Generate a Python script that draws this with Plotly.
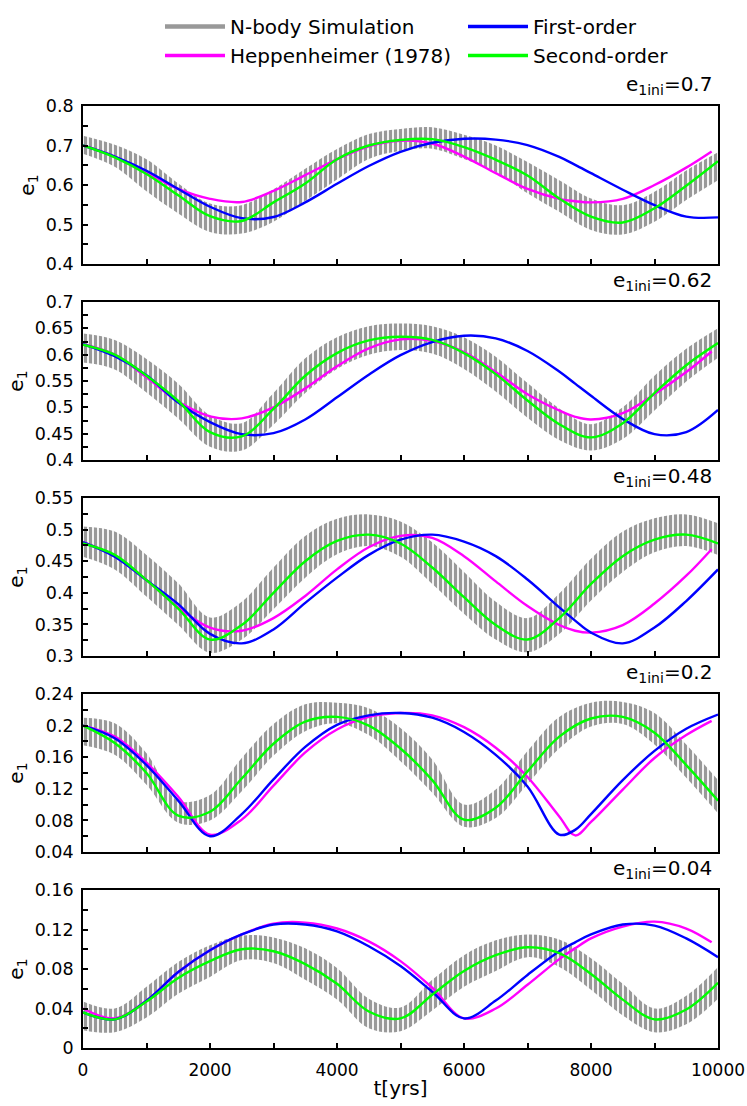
import plotly.graph_objects as go
from plotly.subplots import make_subplots

# ---------------- data ----------------
T = [0, 500, 1000, 1500, 2000, 2500, 3000, 3500, 4000, 4500, 5000,
     5500, 6000, 6500, 7000, 7500, 8000, 8500, 9000, 9500, 10000]
T_FIRST = [0, 500, 1000, 1500, 2000, 2500, 3000, 3500, 4000, 4500, 5000,
           5500, 6000, 6500, 7000, 7500, 7750, 8000, 8500, 9000, 9500, 10000]
T_HEP = [0, 500, 1000, 1500, 2000, 2500, 3000, 3500, 4000, 4500, 5000,
         5500, 6000, 6500, 7000, 7500, 7750, 8000, 8500, 9000, 9500, 9900]

E_INI = ["0.7", "0.62", "0.48", "0.2", "0.04"]

# panel 1 (e1ini = 0.7)
NB_UP_1 = [0.725, 0.702, 0.665, 0.604, 0.553, 0.549, 0.589, 0.641, 0.691, 0.729, 0.742,
           0.746, 0.727, 0.700, 0.658, 0.612, 0.566, 0.549, 0.583, 0.637, 0.683]
NB_LO_1 = [0.679, 0.646, 0.584, 0.528, 0.481, 0.477, 0.507, 0.560, 0.614, 0.666, 0.687,
           0.692, 0.666, 0.633, 0.579, 0.532, 0.486, 0.475, 0.507, 0.562, 0.612]
HEP_1 = [0.700, 0.672, 0.632, 0.590, 0.565, 0.557, 0.585, 0.625, 0.665, 0.698, 0.712,
         0.705, 0.672, 0.630, 0.590, 0.565, 0.559, 0.556, 0.565, 0.600, 0.644, 0.685]
FIRST_1 = [0.700, 0.672, 0.636, 0.590, 0.545, 0.516, 0.519, 0.556, 0.603, 0.648, 0.684,
           0.707, 0.717, 0.715, 0.701, 0.671, 0.651, 0.630, 0.588, 0.549, 0.520, 0.518]
SECOND_1 = [0.700, 0.670, 0.628, 0.574, 0.521, 0.509, 0.556, 0.604, 0.665, 0.700, 0.714,
            0.716, 0.696, 0.664, 0.624, 0.566, 0.520, 0.505, 0.541, 0.598, 0.660]

# panel 2 (e1ini = 0.62)
NB_UP_2 = [0.640, 0.628, 0.592, 0.545, 0.485, 0.470, 0.527, 0.593, 0.633, 0.654, 0.659,
           0.654, 0.633, 0.596, 0.546, 0.498, 0.468, 0.500, 0.560, 0.611, 0.650]
NB_LO_2 = [0.585, 0.572, 0.528, 0.479, 0.425, 0.418, 0.467, 0.527, 0.573, 0.600, 0.609,
           0.602, 0.573, 0.530, 0.480, 0.438, 0.418, 0.440, 0.494, 0.549, 0.594]
HEP_2 = [0.620, 0.600, 0.557, 0.511, 0.483, 0.479, 0.500, 0.536, 0.578, 0.612, 0.629,
         0.626, 0.605, 0.567, 0.525, 0.494, 0.482, 0.477, 0.489, 0.525, 0.567, 0.606]
FIRST_2 = [0.620, 0.597, 0.561, 0.509, 0.472, 0.449, 0.451, 0.477, 0.519, 0.562, 0.599,
           0.624, 0.636, 0.631, 0.607, 0.568, 0.545, 0.522, 0.478, 0.449, 0.453, 0.495]
SECOND_2 = [0.619, 0.600, 0.560, 0.512, 0.453, 0.445, 0.497, 0.560, 0.603, 0.627, 0.634,
            0.628, 0.603, 0.563, 0.513, 0.468, 0.443, 0.470, 0.527, 0.580, 0.622]

# panel 3 (e1ini = 0.48)
NB_UP_3 = [0.505, 0.497, 0.460, 0.415, 0.361, 0.386, 0.440, 0.490, 0.517, 0.524, 0.513,
           0.480, 0.433, 0.386, 0.360, 0.399, 0.454, 0.497, 0.518, 0.524, 0.510]
NB_LO_3 = [0.457, 0.437, 0.394, 0.349, 0.305, 0.326, 0.374, 0.424, 0.461, 0.474, 0.457,
           0.414, 0.367, 0.326, 0.306, 0.335, 0.388, 0.433, 0.464, 0.474, 0.460]
HEP_3 = [0.480, 0.458, 0.420, 0.377, 0.345, 0.340, 0.360, 0.395, 0.437, 0.472, 0.490,
         0.487, 0.458, 0.418, 0.379, 0.349, 0.340, 0.337, 0.349, 0.383, 0.427, 0.469]
FIRST_3 = [0.480, 0.457, 0.420, 0.382, 0.335, 0.320, 0.342, 0.384, 0.424, 0.460, 0.484,
           0.492, 0.481, 0.458, 0.421, 0.377, 0.356, 0.337, 0.320, 0.345, 0.387, 0.437]
SECOND_3 = [0.478, 0.460, 0.420, 0.375, 0.326, 0.349, 0.400, 0.450, 0.482, 0.492, 0.478,
            0.440, 0.393, 0.349, 0.326, 0.360, 0.414, 0.458, 0.484, 0.492, 0.478]

# panel 4 (e1ini = 0.2)
NB_UP_4 = [0.210, 0.203, 0.165, 0.105, 0.112, 0.159, 0.202, 0.227, 0.229, 0.222, 0.197,
           0.157, 0.100, 0.119, 0.168, 0.211, 0.229, 0.230, 0.216, 0.176, 0.131]
NB_LO_4 = [0.175, 0.163, 0.125, 0.077, 0.080, 0.117, 0.162, 0.193, 0.203, 0.188, 0.155,
           0.115, 0.072, 0.083, 0.126, 0.171, 0.199, 0.202, 0.176, 0.134, 0.089]
HEP_4 = [0.200, 0.186, 0.153, 0.110, 0.062, 0.081, 0.124, 0.166, 0.195, 0.211, 0.216,
         0.213, 0.198, 0.172, 0.135, 0.085, 0.061, 0.078, 0.119, 0.159, 0.188, 0.206]
FIRST_4 = [0.200, 0.184, 0.150, 0.105, 0.060, 0.088, 0.132, 0.173, 0.201, 0.213, 0.216,
           0.210, 0.192, 0.163, 0.123, 0.062, 0.068, 0.088, 0.131, 0.168, 0.196, 0.214]
SECOND_4 = [0.200, 0.178, 0.140, 0.086, 0.091, 0.133, 0.177, 0.205, 0.211, 0.200, 0.171,
            0.131, 0.081, 0.096, 0.142, 0.186, 0.209, 0.211, 0.191, 0.150, 0.105]

# panel 5 (e1ini = 0.04)
NB_UP_5 = [0.047, 0.040, 0.062, 0.087, 0.104, 0.114, 0.112, 0.101, 0.081, 0.050, 0.041,
           0.069, 0.094, 0.109, 0.115, 0.110, 0.091, 0.065, 0.040, 0.053, 0.082]
NB_LO_5 = [0.018, 0.016, 0.031, 0.055, 0.072, 0.089, 0.086, 0.069, 0.049, 0.020, 0.017,
           0.038, 0.062, 0.078, 0.092, 0.082, 0.059, 0.033, 0.016, 0.024, 0.050]
HEP_5 = [0.040, 0.030, 0.048, 0.077, 0.099, 0.115, 0.126, 0.127, 0.121, 0.108, 0.088,
         0.061, 0.030, 0.040, 0.064, 0.090, 0.101, 0.111, 0.123, 0.128, 0.121, 0.107]
FIRST_5 = [0.036, 0.029, 0.048, 0.077, 0.099, 0.115, 0.125, 0.125, 0.118, 0.103, 0.083,
           0.057, 0.030, 0.048, 0.074, 0.098, 0.107, 0.115, 0.125, 0.124, 0.111, 0.092]
SECOND_5 = [0.036, 0.029, 0.047, 0.071, 0.088, 0.100, 0.098, 0.085, 0.065, 0.037, 0.030,
            0.054, 0.078, 0.094, 0.102, 0.096, 0.075, 0.049, 0.029, 0.039, 0.066]

# axis ticks
X_MAJOR = [0, 2000, 4000, 6000, 8000, 10000]
X_MINOR = [1000, 3000, 5000, 7000, 9000]
Y_RANGES = [(0.4, 0.8), (0.4, 0.7), (0.3, 0.55), (0.04, 0.24), (0.0, 0.16)]
Y_MAJOR = [
    [0.4, 0.5, 0.6, 0.7, 0.8],
    [0.4, 0.45, 0.5, 0.55, 0.6, 0.65, 0.7],
    [0.3, 0.35, 0.4, 0.45, 0.5, 0.55],
    [0.04, 0.08, 0.12, 0.16, 0.2, 0.24],
    [0, 0.04, 0.08, 0.12, 0.16],
]
Y_MINOR = [
    [0.45, 0.55, 0.65, 0.75],
    [0.425, 0.475, 0.525, 0.575, 0.625, 0.675],
    [0.325, 0.375, 0.425, 0.475, 0.525],
    [0.06, 0.10, 0.14, 0.18, 0.22],
    [0.02, 0.06, 0.10, 0.14],
]

NB = [(NB_UP_1, NB_LO_1), (NB_UP_2, NB_LO_2), (NB_UP_3, NB_LO_3),
      (NB_UP_4, NB_LO_4), (NB_UP_5, NB_LO_5)]
HEP = [HEP_1, HEP_2, HEP_3, HEP_4, HEP_5]
FIRST = [FIRST_1, FIRST_2, FIRST_3, FIRST_4, FIRST_5]
SECOND = [SECOND_1, SECOND_2, SECOND_3, SECOND_4, SECOND_5]

# ---------------- styling ----------------
FONT = "DejaVu Sans, Verdana, sans-serif"
GREY = "#999999"
BLUE = "#0000ff"
MAGENTA = "#ff00ff"
GREEN = "#00ff00"
LW = 2.4
TICK_SIZE = 17.5
XTICK_SIZE = 17
LABEL_SIZE = 20

W, H = 747, 1106
ML, MR, MT, MB = 83, 29, 106, 58
PLOT_H = H - MT - MB          # 942 px
PANEL_H = 158
PITCH = 196

fig = make_subplots(rows=5, cols=1)

for i in range(5):
    r = i + 1
    up, lo = NB[i]
    fig.add_trace(go.Scatter(x=T, y=up, mode="lines",
                             line=dict(width=0, shape="spline", color=GREY),
                             showlegend=False, hoverinfo="skip"), row=r, col=1)
    fig.add_trace(go.Scatter(x=T, y=lo, mode="lines",
                             line=dict(width=0, shape="spline", color=GREY),
                             fill="tonexty", fillcolor="rgba(0,0,0,0)",
                             fillpattern=dict(shape="|", fgcolor=GREY,
                                              bgcolor="rgba(0,0,0,0)",
                                              size=5, solidity=0.65,
                                              fillmode="replace"),
                             showlegend=False, hoverinfo="skip"), row=r, col=1)
    fig.add_trace(go.Scatter(x=T_HEP, y=HEP[i], mode="lines",
                             line=dict(color=MAGENTA, width=LW, shape="spline"),
                             showlegend=False), row=r, col=1)
    fig.add_trace(go.Scatter(x=T_FIRST, y=FIRST[i], mode="lines",
                             line=dict(color=BLUE, width=LW, shape="spline"),
                             showlegend=False), row=r, col=1)
    fig.add_trace(go.Scatter(x=T, y=SECOND[i], mode="lines",
                             line=dict(color=GREEN, width=LW, shape="spline"),
                             showlegend=False), row=r, col=1)

# legend-only entries
for name, color, width, rank in [("N-body Simulation", GREY, 4.5, 1),
                                 ("First-order", BLUE, 3.5, 2),
                                 ("Heppenheimer (1978)", MAGENTA, 3.5, 3),
                                 ("Second-order", GREEN, 3.5, 4)]:
    fig.add_trace(go.Scatter(x=[None], y=[None], mode="lines", name=name,
                             line=dict(color=color, width=width),
                             legendrank=rank, showlegend=True), row=1, col=1)

axis_common = dict(showline=True, linecolor="black", linewidth=1.8, mirror=True,
                   showgrid=False, zeroline=False, ticks="inside", ticklen=5,
                   tickwidth=1.5, tickcolor="black", automargin=False)

for i in range(5):
    r = i + 1
    top_px = MT + i * PITCH
    bot_px = top_px + PANEL_H
    dom = [(H - MB - bot_px) / PLOT_H, (H - MB - top_px) / PLOT_H]
    lo_r, hi_r = Y_RANGES[i]
    fig.update_yaxes(row=r, col=1, domain=dom, range=[lo_r, hi_r],
                     tickvals=Y_MAJOR[i], ticktext=[f"{v:g}" for v in Y_MAJOR[i]],
                     minor=dict(tickvals=Y_MINOR[i], ticks="inside", ticklen=5,
                                tickwidth=1.5, tickcolor="black"),
                     ticklabelstandoff=4,
                     tickfont=dict(family=FONT, size=TICK_SIZE, color="black"),
                     title=dict(text="e<sub>1</sub>", standoff=6,
                                font=dict(family=FONT, size=LABEL_SIZE, color="black")),
                     **axis_common)
    fig.update_xaxes(row=r, col=1, range=[0, 10000],
                     tickvals=X_MAJOR, ticktext=[str(v) for v in X_MAJOR],
                     minor=dict(tickvals=X_MINOR, ticks="inside", ticklen=5,
                                tickwidth=1.5, tickcolor="black"),
                     showticklabels=(r == 5), ticklabelstandoff=6,
                     tickfont=dict(family=FONT, size=XTICK_SIZE, color="black"),
                     **axis_common)
    fig.add_annotation(text=f"e<sub>1ini</sub>={E_INI[i]}", xref="paper", yref="paper",
                       x=1, xanchor="right", xshift=-4,
                       y=(H - MB - (top_px - 21)) / PLOT_H, yanchor="middle",
                       showarrow=False,
                       font=dict(family=FONT, size=LABEL_SIZE, color="black"))

fig.update_xaxes(row=5, col=1,
                 title=dict(text="t[yrs]", standoff=2,
                            font=dict(family=FONT, size=LABEL_SIZE, color="black")))

fig.update_layout(
    width=W, height=H,
    margin=dict(l=ML, r=MR, t=MT, b=MB, pad=0, autoexpand=False),
    paper_bgcolor="white", plot_bgcolor="white",
    font=dict(family=FONT, color="black"),
    showlegend=True,
    legend=dict(orientation="h", x=(160 - ML) / (W - ML - MR), xanchor="left",
                y=(H - MB - 7) / PLOT_H, yanchor="top",
                entrywidth=228, entrywidthmode="pixels", itemwidth=60,
                font=dict(family=FONT, size=LABEL_SIZE, color="black"),
                bgcolor="rgba(0,0,0,0)", traceorder="normal"),
)

fig.write_html("out.html",
               config={"displayModeBar": False},
               post_script="document.body.style.margin='0';"
                           "document.documentElement.style.overflow='hidden';")
